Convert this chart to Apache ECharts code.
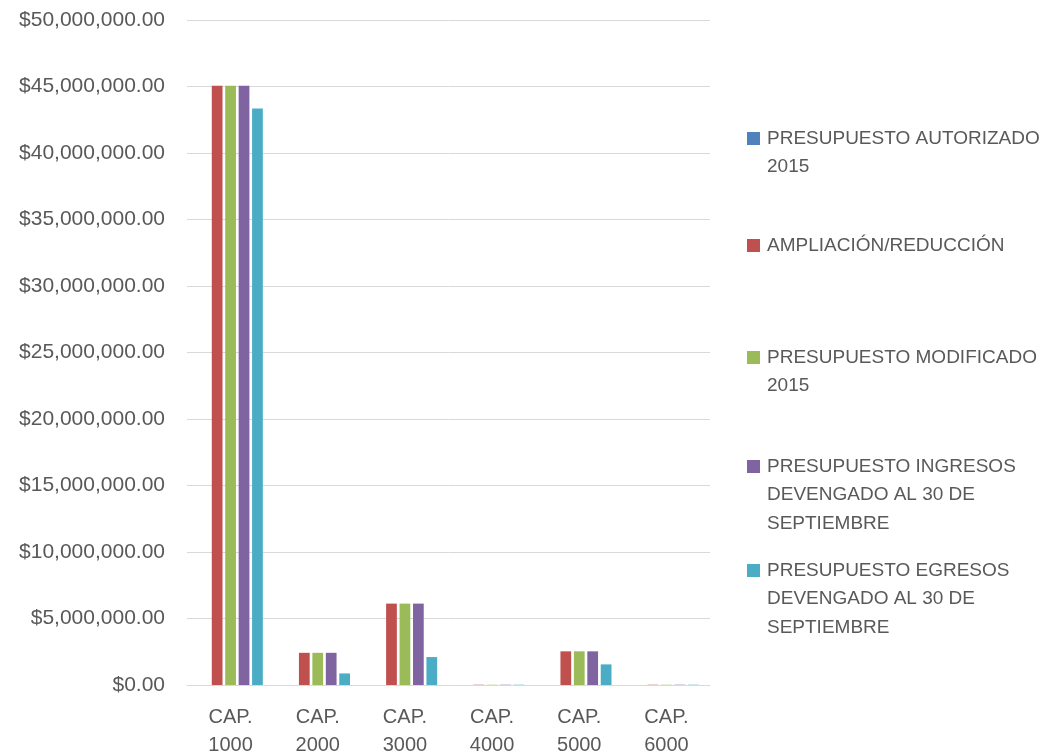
<!DOCTYPE html>
<html>
<head>
<meta charset="utf-8">
<script src="https://cdn.jsdelivr.net/npm/echarts@6/dist/echarts.min.js"></script>
<style>html,body{margin:0;padding:0;background:#fff}#c{width:1046px;height:754px}</style>
</head>
<body>
<div id="c"></div>
<script>
var categories = ['CAP. 1000', 'CAP. 2000', 'CAP. 3000', 'CAP. 4000', 'CAP. 5000', 'CAP. 6000'];
var seriesNames = [
  'PRESUPUESTO AUTORIZADO 2015',
  'AMPLIACIÓN/REDUCCIÓN',
  'PRESUPUESTO MODIFICADO 2015',
  'PRESUPUESTO INGRESOS DEVENGADO AL 30 DE SEPTIEMBRE',
  'PRESUPUESTO EGRESOS DEVENGADO AL 30 DE SEPTIEMBRE'
];
var legendLabels = [
  'PRESUPUESTO AUTORIZADO\n2015',
  'AMPLIACIÓN/REDUCCIÓN',
  'PRESUPUESTO MODIFICADO\n2015',
  'PRESUPUESTO INGRESOS\nDEVENGADO AL 30 DE\nSEPTIEMBRE',
  'PRESUPUESTO EGRESOS\nDEVENGADO AL 30 DE\nSEPTIEMBRE'
];
var autorizado = [0, 0, 0, 0, 0, 0];
var ampliacion = [45050000, 2420000, 6120000, 20000, 2530000, 20000];
var modificado = [45050000, 2420000, 6120000, 20000, 2530000, 20000];
var ingresos = [45050000, 2420000, 6120000, 20000, 2530000, 20000];
var egresos = [43350000, 870000, 2100000, 20000, 1550000, 20000];
var yTicks = [0, 5000000, 10000000, 15000000, 20000000, 25000000, 30000000, 35000000, 40000000, 45000000, 50000000];

var colors = ['#4F81BD', '#C0504D', '#9BBB59', '#8064A2', '#4BACC6'];
var values = [autorizado, ampliacion, modificado, ingresos, egresos];
var FONT = 'Liberation Sans';
var TXT = '#595959';
var FS = 19;

function money(v) {
  var s = Math.round(v).toString().replace(/\B(?=(\d{3})+(?!\d))/g, ',');
  return '$' + s + '.00';
}

var LH = 28.5;
var iconTops = [132, 239, 351, 460, 564];
var legends = seriesNames.map(function (n, i) {
  var lines = legendLabels[i].split('\n').length;
  var H = (2 * lines - 1) * LH;
  var pre = new Array(lines).join('\n');
  return {
    orient: 'vertical',
    left: 747,
    top: iconTops[i] + 6.5 - H / 2,
    padding: 0,
    itemWidth: 13,
    itemHeight: 13,
    icon: 'rect',
    selectedMode: false,
    data: [n],
    formatter: function () { return pre + legendLabels[i]; },
    textStyle: { fontFamily: FONT, fontSize: FS, color: TXT, lineHeight: LH, padding: [0, 0, 0, 2] }
  };
});

var chart = echarts.init(document.getElementById('c'));
chart.setOption({
  animation: false,
  color: colors,
  legend: legends,
  grid: { left: 187, right: 336, top: 20, bottom: 69, containLabel: false, outerBoundsMode: 'none' },
  xAxis: {
    type: 'category',
    data: categories,
    axisTick: { show: false },
    axisLine: { lineStyle: { color: '#d9d9d9', width: 1 } },
    axisLabel: {
      fontFamily: FONT, fontSize: 20, color: TXT, lineHeight: 28, margin: 18,
      formatter: function (v) { return v.replace(' ', '\n'); }
    }
  },
  yAxis: {
    type: 'value',
    min: yTicks[0],
    max: yTicks[yTicks.length - 1],
    interval: yTicks[1] - yTicks[0],
    axisLine: { show: false },
    axisTick: { show: false },
    splitLine: { lineStyle: { color: '#d9d9d9', width: 1 } },
    axisLabel: { fontFamily: FONT, fontSize: 21, color: TXT, margin: 22, formatter: money }
  },
  series: seriesNames.map(function (n, i) {
    return {
      name: n, type: 'bar', data: values[i],
      barGap: '25%', barCategoryGap: '26%',
      itemStyle: { color: colors[i] }
    };
  })
});
</script>
</body>
</html>
